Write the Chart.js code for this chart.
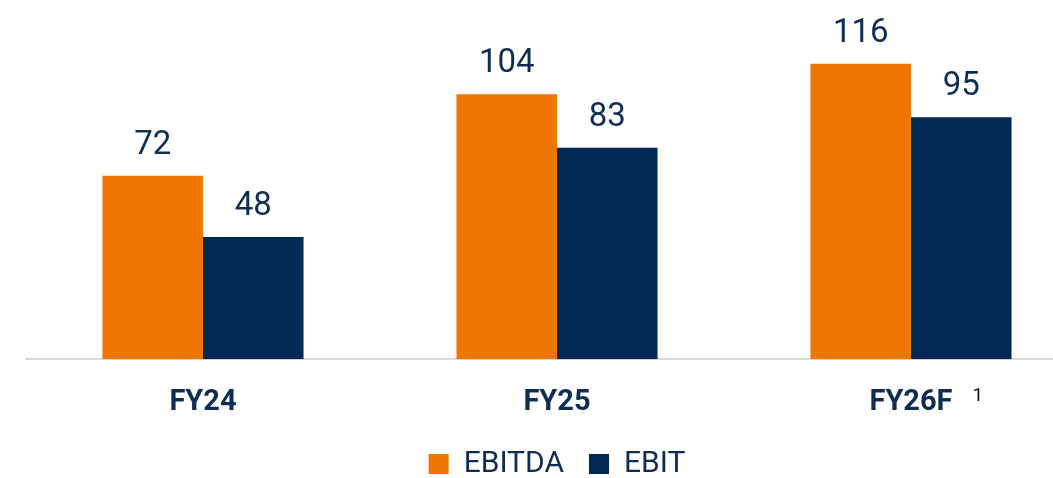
<!DOCTYPE html>
<html>
<head>
<meta charset="utf-8">
<script src="https://cdn.jsdelivr.net/npm/chart.js@4"></script>
<style>
  html, body { margin: 0; padding: 0; background: #ffffff; overflow: hidden; }
  #wrap { position: relative; width: 1114px; height: 478px; }
</style>
</head>
<body>
<div id="wrap"><canvas id="c"></canvas></div>
<script>
const categories = ['FY24', 'FY25', 'FY26F'];
const ebitda = [72, 104, 116];
const ebit = [48, 83, 95];
const seriesNames = ['EBITDA', 'EBIT'];
const footnoteMarks = ['', '', '1'];

const ORANGE = '#EE7601';
const NAVY = '#012A52';
const TEXT = '#0F2D52';

const valueLabels = {
  id: 'valueLabels',
  afterDatasetsDraw(chart) {
    const ctx = chart.ctx;
    ctx.save();
    ctx.font = '400 33px Roboto';
    ctx.fillStyle = TEXT;
    ctx.textAlign = 'center';
    ctx.textBaseline = 'alphabetic';
    chart.data.datasets.forEach((ds, di) => {
      const meta = chart.getDatasetMeta(di);
      meta.data.forEach((bar, i) => {
        ctx.fillText(String(ds.data[i]), bar.x, bar.y - 22);
      });
    });
    ctx.restore();
  }
};

const footnotes = {
  id: 'footnotes',
  afterDraw(chart) {
    const ctx = chart.ctx;
    const xs = chart.scales.x;
    ctx.save();
    footnoteMarks.forEach((m, i) => {
      if (!m) return;
      ctx.font = 'bold 29px Roboto';
      const w = ctx.measureText(categories[i]).width;
      const x = xs.getPixelForValue(i) + w / 2 + 20;
      ctx.font = '400 19px Roboto';
      ctx.fillStyle = '#111111';
      ctx.textAlign = 'left';
      ctx.textBaseline = 'alphabetic';
      ctx.fillText(m, x, 401);
    });
    ctx.restore();
  }
};

new Chart(document.getElementById('c'), {
  type: 'bar',
  data: {
    labels: categories,
    datasets: [
      { label: seriesNames[0], data: ebitda, backgroundColor: ORANGE, borderWidth: 0 },
      { label: seriesNames[1], data: ebit, backgroundColor: NAVY, borderWidth: 0 }
    ]
  },
  options: {
    responsive: true,
    maintainAspectRatio: false,
    animation: false,
    layout: { padding: { left: 26, right: 26, top: 0, bottom: -11 } },
    datasets: { bar: { categoryPercentage: 0.568, barPercentage: 1.0 } },
    scales: {
      x: {
        grid: { display: false, drawTicks: true, tickLength: 22 },
        border: { display: true, color: '#D9D9D9', width: 2 },
        ticks: {
          color: TEXT,
          font: { family: 'Roboto', size: 29, weight: 'bold', lineHeight: 1.2 },
          padding: 4
        }
      },
      y: {
        display: false,
        min: 0,
        max: 141
      }
    },
    plugins: {
      legend: {
        position: 'bottom',
        labels: {
          color: TEXT,
          font: { family: 'Roboto', size: 30, weight: '400' },
          boxWidth: 20,
          boxHeight: 20,
          padding: 25
        }
      },
      tooltip: { enabled: false }
    }
  },
  plugins: [valueLabels, footnotes]
});
</script>
</body>
</html>
